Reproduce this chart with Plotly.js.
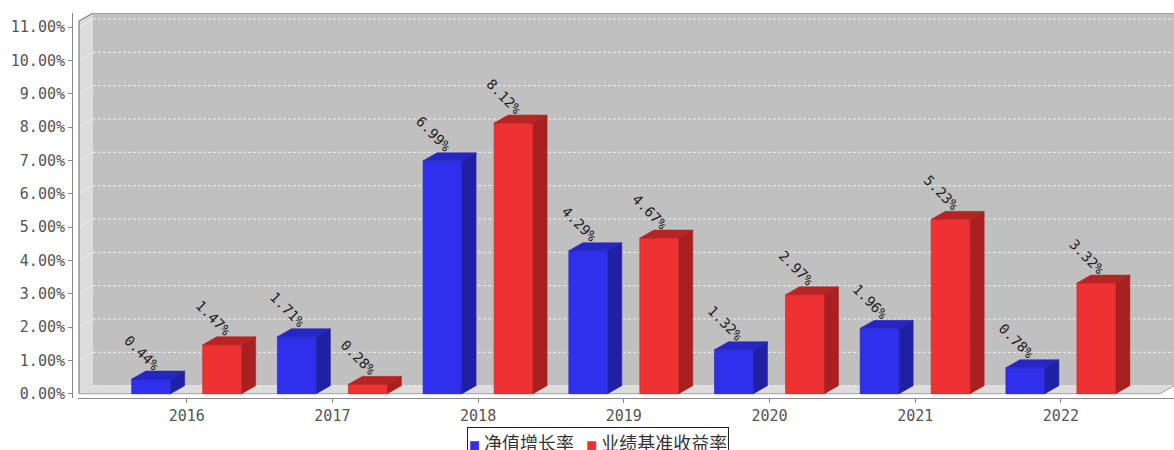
<!DOCTYPE html>
<html>
<head>
<meta charset="utf-8">
<script src="https://cdn.plot.ly/plotly-3.0.1.min.js"></script>
<style>html,body{margin:0;padding:0;background:#fff;}#chart{width:1174px;height:450px;}</style>
</head>
<body>
<div id="chart"></div>
<script>
// ---- data ----
const years = ['2016', '2017', '2018', '2019', '2020', '2021', '2022'];
const navGrowth = [0.44, 1.71, 6.99, 4.29, 1.32, 1.96, 0.78];      // 净值增长率 (%)
const benchmark = [1.47, 0.28, 8.12, 4.67, 2.97, 5.23, 3.32];      // 业绩基准收益率 (%)
const seriesNames = ['净值增长率', '业绩基准收益率'];
const yTicks = [0, 1, 2, 3, 4, 5, 6, 7, 8, 9, 10, 11];

// ---- geometry / style ----
const PXX = 145.7, PXY = 33.33;          // pixels per unit
const DX = 14 / PXX, DY = 8 / PXY;       // 3D depth offset
const XR = [(78 - 186.7) / PXX, (1174 - 186.7) / PXX];
const YR = [-0.129, 11.42];
const FL = (79 - 186.7) / PXX, FR = (1160 - 186.7) / PXX, FT = 11.18;
const BW = 39 / PXX;
const OFF = [-55 / PXX, 16 / PXX];
const COLS = [
  {front: '#2f2fec', side: '#2020a4', top: '#2626c4', line: '#2222b0'},
  {front: '#ee3131', side: '#a82020', top: '#b82424', line: '#c02626'}
];
const MONO = 'DejaVu Sans Mono, monospace';

const idx = years.map((_, i) => i);
const traces = [];
const annotations = [];
[navGrowth, benchmark].forEach((vals, s) => {
  traces.push({
    type: 'bar', name: seriesNames[s], x: idx, y: vals,
    width: BW, offset: OFF[s], showlegend: false,
    marker: {color: COLS[s].front, line: {color: COLS[s].line, width: 0.6}},
    hoverinfo: 'skip'
  });
  const tx = [], ty = [], sx = [], sy = [];
  vals.forEach((v, i) => {
    const xl = i + OFF[s], xr = xl + BW;
    tx.push(xl, xl + DX, xr + DX, xr, xl, null);
    ty.push(v, v + DY, v + DY, v, v, null);
    sx.push(xr, xr, xr + DX, xr + DX, xr, null);
    sy.push(0, v, v + DY, DY, 0, null);
    annotations.push({
      x: xl + BW / 2, y: v, xref: 'x', yref: 'y',
      text: v.toFixed(2) + '%', showarrow: false, textangle: 45,
      xshift: -9, yshift: 26.5,
      font: {family: MONO, size: 14, color: '#222'}
    });
  });
  traces.push({type: 'scatter', mode: 'lines', x: tx, y: ty, fill: 'toself',
    fillcolor: COLS[s].top, line: {width: 0.5, color: COLS[s].top}, showlegend: false, hoverinfo: 'skip'});
  traces.push({type: 'scatter', mode: 'lines', x: sx, y: sy, fill: 'toself',
    fillcolor: COLS[s].side, line: {width: 0.5, color: COLS[s].side}, showlegend: false, hoverinfo: 'skip'});
});

// legend (boxed, compact, like the original)
const legendText = seriesNames.map((n, s) =>
  `<span style="color:${COLS[s].front};font-size:11px">■</span> ${n}`).join('   ');
annotations.push({
  xref: 'paper', yref: 'paper', x: (598 - 72) / 1102, y: -(427 - 398) / 385,
  xanchor: 'center', yanchor: 'top', showarrow: false, text: legendText,
  font: {family: 'Noto Sans CJK SC', size: 18, color: '#333'},
  bordercolor: '#222', borderwidth: 1, borderpad: 1, bgcolor: '#fff'
});

const shapes = [];
// back wall
shapes.push({type: 'rect', xref: 'x', yref: 'y', layer: 'below', x0: FL + DX, x1: FR + DX, y0: DY, y1: YR[1],
  fillcolor: '#c0c0c0', line: {width: 0}});
// left wall
shapes.push({type: 'path', xref: 'x', yref: 'y', layer: 'below',
  path: `M${FL},0 L${FL},${FT} L${FL + DX},${YR[1]} L${FL + DX},${DY} Z`, fillcolor: '#dcdcdc', line: {width: 0}});
// floor
shapes.push({type: 'path', xref: 'x', yref: 'y', layer: 'below',
  path: `M${FL},0 L${FR},0 L${FR + DX},${DY} L${FL + DX},${DY} Z`, fillcolor: '#dcdcdc', line: {width: 0}});
// gridlines
yTicks.forEach(v => {
  shapes.push({type: 'line', xref: 'x', yref: 'y', layer: 'below', x0: FL + DX, x1: FR + DX, y0: v + DY, y1: v + DY,
    line: {color: '#ececec', width: 1, dash: '3px,2px'}});
  if (v > 0) shapes.push({type: 'line', xref: 'x', yref: 'y', layer: 'below', x0: FL, x1: FL + DX, y0: v, y1: v + DY,
    line: {color: '#ececec', width: 1}});
});
// outline
shapes.push({type: 'path', xref: 'x', yref: 'y', layer: 'below',
  path: `M${FL},0 L${FL},${FT} L${FL + DX},${YR[1]} L${FR + DX},${YR[1]}`, line: {color: '#808080', width: 1.2}});
shapes.push({type: 'path', xref: 'x', yref: 'y', layer: 'below',
  path: `M${FL},0 L${FR},0 L${FR + DX},${DY}`, line: {color: '#a0a0a0', width: 1}});

const layout = {
  width: 1174, height: 450,
  margin: {l: 72, r: 0, t: 13, b: 52, autoexpand: false},
  paper_bgcolor: '#ffffff', plot_bgcolor: '#ffffff',
  barmode: 'overlay',
  showlegend: false,
  xaxis: {domain: [6 / 1102, 1], range: XR, tickvals: idx, ticktext: years,
    showgrid: false, zeroline: false, showline: true, linecolor: '#888', linewidth: 1,
    ticks: 'outside', ticklen: 4, tickcolor: '#888',
    tickfont: {family: MONO, size: 15, color: '#555'}},
  yaxis: {range: YR, anchor: 'free', position: 0, tickvals: yTicks,
    ticktext: yTicks.map(v => v.toFixed(2) + '%'),
    showgrid: false, zeroline: false, showline: true, linecolor: '#888', linewidth: 1,
    ticks: 'outside', ticklen: 4, tickcolor: '#888',
    tickfont: {family: MONO, size: 15, color: '#555'}},
  shapes: shapes,
  annotations: annotations
};

Plotly.newPlot('chart', traces, layout, {displayModeBar: false, staticPlot: true});
</script>
</body>
</html>
